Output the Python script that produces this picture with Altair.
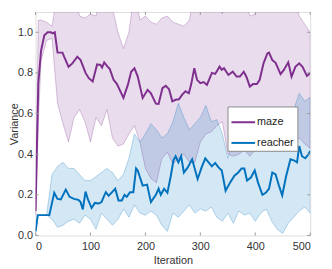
import altair as alt
import pandas as pd

# ---- data ----
maze_x = [0, 5, 10, 16, 22, 28, 31, 35, 40, 49, 52, 60, 67, 76, 82, 91, 97, 104, 112, 118, 121, 125, 131, 135,
          142, 148, 160, 168, 174, 180, 186, 195, 204, 210, 219, 224, 231, 237, 243, 249, 255, 261, 267, 273,
          279, 283, 289, 294, 300, 306, 312, 321, 327, 335, 339, 343, 351, 359, 366, 372, 379, 384, 390, 396,
          403, 408, 415, 422, 425, 431, 437, 446, 452, 460, 466, 473, 480, 486, 494, 500]
maze_y = [0.12, 0.75, 0.91, 0.985, 1.0, 1.0, 0.995, 1.0, 0.90, 0.90, 0.88, 0.83, 0.847, 0.88, 0.863, 0.80, 0.774,
          0.758, 0.842, 0.84, 0.826, 0.852, 0.831, 0.82, 0.766, 0.746, 0.677, 0.741, 0.806, 0.823, 0.782, 0.677,
          0.717, 0.70, 0.649, 0.647, 0.725, 0.737, 0.72, 0.66, 0.668, 0.67, 0.693, 0.71, 0.70, 0.74, 0.823, 0.766,
          0.75, 0.755, 0.741, 0.80, 0.795, 0.831, 0.815, 0.823, 0.79, 0.806, 0.782, 0.782, 0.806, 0.78, 0.733,
          0.745, 0.745, 0.766, 0.847, 0.896, 0.90, 0.863, 0.85, 0.794, 0.815, 0.852, 0.782, 0.83, 0.847, 0.83,
          0.785, 0.80]

reacher_x = [0, 4, 25, 34, 40, 46, 55, 62, 70, 78, 82, 86, 91, 95, 102, 108, 115, 120, 124, 128, 133, 145, 151,
             157, 162, 166, 172, 178, 183, 186, 195, 203, 210, 219, 224, 228, 234, 240, 246, 251, 255, 260, 265,
             270, 277, 285, 295, 303, 309, 315, 321, 327, 333, 339, 346, 354, 362, 369, 375, 380, 385, 392, 399,
             405, 413, 419, 425, 431, 437, 443, 449, 456, 464, 470, 476, 480, 485, 491, 497, 500]
reacher_y = [0.02, 0.10, 0.10, 0.21, 0.18, 0.177, 0.226, 0.19, 0.18, 0.175, 0.164, 0.128, 0.216, 0.18, 0.135,
             0.16, 0.157, 0.164, 0.19, 0.213, 0.195, 0.23, 0.172, 0.172, 0.2, 0.19, 0.213, 0.213, 0.33, 0.32,
             0.245, 0.25, 0.164, 0.2, 0.23, 0.2, 0.23, 0.21, 0.29, 0.37, 0.39, 0.36, 0.39, 0.31, 0.335, 0.375,
             0.278, 0.34, 0.379, 0.36, 0.34, 0.357, 0.335, 0.32, 0.22, 0.26, 0.294, 0.31, 0.33, 0.33, 0.27, 0.285,
             0.32, 0.26, 0.2, 0.21, 0.23, 0.31, 0.30, 0.246, 0.197, 0.29, 0.375, 0.37, 0.36, 0.44, 0.39, 0.38,
             0.40, 0.416]

band_x = [0, 5] + list(range(10, 501, 10))
maze_lo = [0.10, 0.55, 0.86, 0.96, 0.97, 0.65, 0.55, 0.46, 0.58, 0.62, 0.56, 0.46, 0.58, 0.54, 0.62, 0.48,
           0.44, 0.45, 0.50, 0.54, 0.46, 0.33, 0.28, 0.26, 0.38, 0.41, 0.35, 0.38, 0.40, 0.36, 0.36, 0.46,
           0.50, 0.51, 0.54, 0.56, 0.40, 0.39, 0.40, 0.42, 0.39, 0.42, 0.49, 0.53, 0.56, 0.57, 0.52, 0.50,
           0.46, 0.48, 0.45, 0.43]
maze_hi = [0.14, 1.06, 1.06, 1.05, 1.03, 1.2, 1.2, 1.2, 1.2, 1.08, 1.07, 1.09, 1.08, 1.2, 1.2, 1.12,
           1.0, 0.92, 1.0, 1.2, 1.06, 1.08, 1.05, 1.04, 1.07, 1.08, 1.05, 1.04, 1.03, 1.06, 1.2, 1.2,
           1.2, 1.2, 1.2, 1.09, 1.2, 1.2, 1.2, 1.2, 1.08, 1.09, 1.2, 1.2, 1.2, 1.2, 1.2, 1.2,
           1.2, 1.08, 1.04, 1.0]
reacher_lo = [0.02, 0.10, 0.10, 0.10, 0.08, 0.04, 0.05, 0.07, 0.08, 0.06, 0.10, 0.08, 0.03, 0.11, 0.08,
              0.05, 0.08, 0.13, 0.09, 0.15, 0.11, 0.10, 0.12, 0.10, 0.05, 0.02, 0.11, 0.09, 0.12, 0.15,
              0.11, 0.13, 0.12, 0.14, 0.09, 0.07, 0.11, 0.06, 0.12, 0.10, 0.11, 0.07, 0.11, 0.13, 0.07,
              0.03, 0.01, 0.06, 0.09, 0.12, 0.14, 0.11]
reacher_hi = [0.02, 0.10, 0.10, 0.10, 0.30, 0.34, 0.36, 0.33, 0.33, 0.30, 0.27, 0.27, 0.29, 0.31, 0.33,
              0.31, 0.27, 0.30, 0.38, 0.50, 0.46, 0.50, 0.55, 0.52, 0.48, 0.50, 0.56, 0.65, 0.58, 0.52,
              0.55, 0.58, 0.64, 0.56, 0.57, 0.50, 0.38, 0.47, 0.52, 0.48, 0.41, 0.48, 0.50, 0.55, 0.58,
              0.56, 0.49, 0.55, 0.62, 0.70, 0.66, 0.68]

series = ["maze", "reacher"]
colors = ["#7E2F8E", "#0072BD"]
x_ticks = [0, 100, 200, 300, 400, 500]
y_ticks = [0, 0.2, 0.4, 0.6, 0.8, 1.0]

# ---- tables ----
lines_df = pd.concat([
    pd.DataFrame({"iter": maze_x, "v": maze_y, "series": "maze"}),
    pd.DataFrame({"iter": reacher_x, "v": reacher_y, "series": "reacher"}),
])
bands_df = pd.concat([
    pd.DataFrame({"iter": band_x, "lo": maze_lo, "hi": maze_hi, "grp": "maze", "order": 0}),
    pd.DataFrame({"iter": band_x, "lo": reacher_lo, "hi": reacher_hi, "grp": "reacher", "order": 1}),
])

W, H = 279, 227
AX = "#9a9a9a"
FONT = "Liberation Sans"

xscale = alt.Scale(domain=[0, 500], nice=False)
yscale = alt.Scale(domain=[0, 1.1], nice=False)
cscale = alt.Scale(domain=series, range=colors)

xaxis = alt.Axis(values=x_ticks, title="Iteration", grid=False, ticks=False, domain=False,
                 labelPadding=5, titlePadding=3, labelFontSize=11, titleFontSize=11,
                 titleFontWeight="normal", labelColor="#333333", titleColor="#333333", labelFont=FONT,
                 titleFont=FONT)
yaxis = alt.Axis(values=y_ticks, title="Variance", grid=False, ticks=False, domain=False,
                 labelPadding=3, titleX=-16, titleY=H / 2, titleBaseline="bottom", labelFontSize=11,
                 titleFontSize=11, titleFontWeight="normal", labelColor="#333333", titleColor="#333333",
                 labelFont=FONT, titleFont=FONT)

bands = alt.Chart(bands_df).mark_area(clip=True, fillOpacity=0.17, strokeOpacity=0.35, strokeWidth=0.8).encode(
    x=alt.X("iter:Q", scale=xscale, axis=xaxis),
    y=alt.Y("lo:Q", scale=yscale, axis=yaxis),
    y2="hi:Q",
    fill=alt.Fill("grp:N", scale=cscale, legend=None),
    stroke=alt.Stroke("grp:N", scale=cscale, legend=None),
    detail="grp:N",
    order="order:Q",
)

lines = alt.Chart(lines_df).mark_line(strokeWidth=2, clip=True).encode(
    x=alt.X("iter:Q", scale=xscale),
    y=alt.Y("v:Q", scale=yscale),
    color=alt.Color("series:N", scale=cscale, legend=alt.Legend(
        title=None, orient="none", legendX=195, legendY=96, direction="vertical",
        symbolType="stroke", symbolSize=576, symbolStrokeWidth=2, labelFontSize=11,
        labelFont=FONT, labelColor="#222222", labelOffset=1, rowPadding=3, padding=3,
        strokeColor="#8a8a8a", fillColor="white", cornerRadius=0)),
)

xt_df = pd.DataFrame({"t": x_ticks})
yt_df = pd.DataFrame({"t": y_ticks})
tick_bot = alt.Chart(xt_df).mark_rule(color=AX, strokeWidth=1).encode(
    x=alt.X("t:Q", scale=xscale), y=alt.value(H), y2=alt.value(H - 3))
tick_top = alt.Chart(xt_df).mark_rule(color=AX, strokeWidth=1).encode(
    x=alt.X("t:Q", scale=xscale), y=alt.value(0), y2=alt.value(3))
tick_left = alt.Chart(yt_df).mark_rule(color=AX, strokeWidth=1).encode(
    y=alt.Y("t:Q", scale=yscale), x=alt.value(0), x2=alt.value(3))
tick_right = alt.Chart(yt_df).mark_rule(color=AX, strokeWidth=1).encode(
    y=alt.Y("t:Q", scale=yscale), x=alt.value(W), x2=alt.value(W - 3))

chart = alt.layer(bands, lines, tick_bot, tick_top, tick_left, tick_right).properties(
    width=W, height=H,
    autosize=alt.AutoSizeParams(type="none"),
    padding={"left": 28, "top": 2, "right": 14, "bottom": 30},
).resolve_scale(color="independent").configure_view(stroke=AX, strokeWidth=1).configure(background="white")

chart.save("out.html", embed_options={"renderer": "svg", "actions": False})
